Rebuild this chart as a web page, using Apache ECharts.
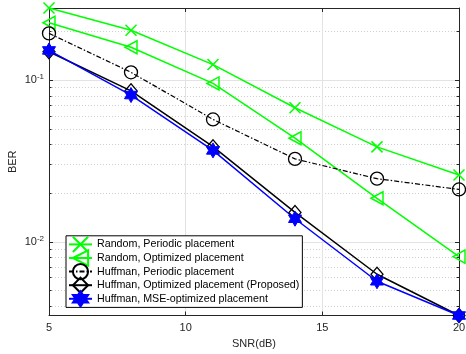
<!DOCTYPE html>
<html><head><meta charset="utf-8">
<script src="https://cdn.jsdelivr.net/npm/echarts@6/dist/echarts.min.js"></script>
<style>html,body{margin:0;padding:0;background:#fff}#c{width:466px;height:354px}</style>
</head><body><div id="c"></div>
<script>
var snr = [5, 8, 11, 14, 17, 20];
var randPeriodic = [0.280, 0.204, 0.125, 0.0676, 0.0387, 0.0259];
var randOptimized = [0.227, 0.160, 0.0956, 0.0438, 0.0186, 0.0081];
var huffPeriodic = [0.195, 0.112, 0.0572, 0.0326, 0.0246, 0.0211];
var huffOptimized = [0.150, 0.086, 0.0388, 0.0152, 0.0063, 0.0035];
var huffMSE = [0.153, 0.081, 0.0368, 0.0139, 0.0057, 0.0035];
var seriesNames = ['Random, Periodic placement', 'Random, Optimized placement', 'Huffman, Periodic placement', 'Huffman, Optimized placement (Proposed)', 'Huffman, MSE-optimized placement'];
var xTicks = [5, 10, 15, 20];
var yMajor = [0.01, 0.1];
var yMinor = [0.004, 0.005, 0.006, 0.007, 0.008, 0.009, 0.02, 0.03, 0.04, 0.05, 0.06, 0.07, 0.08, 0.09, 0.2];
var yMin = 0.0035, yMax = 0.28;

function pairs(ys) { return snr.map(function (x, i) { return [x, ys[i]]; }); }
var FONT = 'Liberation Sans';
var AX = '#262626';
function yAx(pos, vals, len, opts) {
  var a = {
    type: 'log', logBase: 10, min: yMin, max: yMax, position: pos,
    axisLine: {show: true, lineStyle: {color: AX, width: 1}},
    axisTick: {show: true, inside: true, length: len, customValues: vals, lineStyle: {color: AX}},
    axisLabel: {show: false},
    splitLine: {show: false}
  };
  for (var k in opts) a[k] = opts[k];
  return a;
}
var chart = echarts.init(document.getElementById('c'), null, {renderer: 'canvas'});
var lineW = 1.5;
chart.setOption({
  animation: false,
  backgroundColor: '#fff',
  textStyle: {fontFamily: FONT},
  grid: {left: 49, right: 7, top: 8, bottom: 38.5, containLabel: false, outerBoundsMode: 'none'},
  legend: {
    data: seriesNames, orient: 'vertical', left: 66, top: 235.8,
    itemWidth: 23, itemHeight: 19, itemGap: -3.6, padding: [0, 3, 0, 2],
    backgroundColor: '#fff', borderColor: '#000', borderWidth: 1, borderRadius: 0,
    textStyle: {fontFamily: FONT, fontSize: 10.7, color: '#000'}, selectedMode: false
  },
  xAxis: [
    {type: 'value', min: 5, max: 20, interval: 5, position: 'bottom',
     name: 'SNR(dB)', nameLocation: 'middle', nameGap: 23,
     nameTextStyle: {fontFamily: FONT, fontSize: 11, color: AX},
     axisLine: {show: true, onZero: false, lineStyle: {color: AX}},
     axisTick: {show: true, inside: true, length: 4, customValues: xTicks, lineStyle: {color: AX}},
     axisLabel: {show: true, customValues: xTicks, margin: 7, fontFamily: FONT, fontSize: 11, color: AX},
     splitLine: {show: true, lineStyle: {color: '#e3e3e3', width: 1}}},
    {type: 'value', min: 5, max: 20, interval: 5, position: 'top',
     axisLine: {show: true, onZero: false, lineStyle: {color: AX}},
     axisTick: {show: true, inside: true, length: 4, customValues: xTicks, lineStyle: {color: AX}},
     axisLabel: {show: false}, splitLine: {show: false}}
  ],
  yAxis: [
    yAx('left', yMajor, 4, {
      name: 'BER', nameLocation: 'middle', nameGap: 31, nameRotate: 90, nameMoveOverlap: false,
      nameTextStyle: {fontFamily: FONT, fontSize: 11, color: AX},
      axisLabel: {show: true, customValues: yMajor, margin: 5,
        formatter: function (v) { var key = Math.round(Math.log10(v)); return '{b|10}{s|' + key + '}'; },
        rich: {b: {fontFamily: FONT, fontSize: 11, color: AX, lineHeight: 12},
               s: {fontFamily: FONT, fontSize: 8, color: AX, padding: [0, 0, 7, 0]}}},
      splitLine: {show: true, lineStyle: {color: '#e3e3e3', width: 1}}
    }),
    yAx('left', yMinor, 2.5, {axisLine: {show: false},
      splitLine: {show: true, lineStyle: {color: '#cfcfcf', width: 1, type: [1, 2]}}}),
    yAx('right', yMajor, 4, {}),
    yAx('right', yMinor, 2.5, {axisLine: {show: false}})
  ],
  series: [
    {name: seriesNames[0], type: 'line', data: pairs(randPeriodic), clip: false,
     symbol: 'path://M0,0L10,10M10,0L0,10', symbolSize: 11,
     lineStyle: {color: '#00ff00', width: lineW}, color: '#00ff00',
     itemStyle: {color: 'transparent', borderColor: '#00ff00', borderWidth: lineW}},
    {name: seriesNames[1], type: 'line', data: pairs(randOptimized), clip: false,
     symbol: 'path://M0,5L10,0L10,10Z', symbolSize: [12, 13],
     lineStyle: {color: '#00ff00', width: lineW}, color: '#00ff00',
     itemStyle: {color: 'transparent', borderColor: '#00ff00', borderWidth: lineW}},
    {name: seriesNames[2], type: 'line', data: pairs(huffPeriodic), clip: false,
     symbol: 'circle', symbolSize: 13,
     lineStyle: {color: '#000', width: 1.2, type: [5, 2, 1.5, 2]}, color: '#000',
     itemStyle: {color: 'transparent', borderColor: '#000', borderWidth: 1.3}},
    {name: seriesNames[3], type: 'line', data: pairs(huffOptimized), clip: false,
     symbol: 'diamond', symbolSize: [12, 14],
     lineStyle: {color: '#000', width: lineW}, color: '#000',
     itemStyle: {color: 'transparent', borderColor: '#000', borderWidth: 1.3}},
    {name: seriesNames[4], type: 'line', data: pairs(huffMSE), clip: false,
     symbol: 'path://M5,0L6.44,2.5L9.33,2.5L7.89,5L9.33,7.5L6.44,7.5L5,10L3.56,7.5L0.67,7.5L2.11,5L0.67,2.5L3.56,2.5Z',
     symbolSize: 15, symbolKeepAspect: true,
     lineStyle: {color: '#0000ff', width: lineW}, color: '#0000ff',
     itemStyle: {color: '#0000ff', borderColor: '#0000ff', borderWidth: 1}}
  ]
});
</script></body></html>
